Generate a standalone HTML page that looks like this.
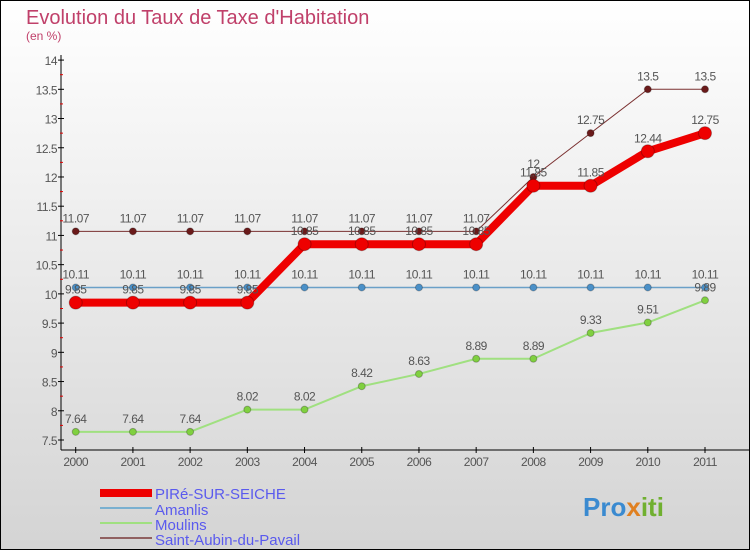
<!DOCTYPE html>
<html><head><meta charset="utf-8"><style>
body{margin:0;}
#wrap{width:750px;height:550px;position:relative;box-sizing:border-box;border:1px solid #000;background:linear-gradient(#ffffff,#d4d4d4);font-family:"Liberation Sans",sans-serif;overflow:hidden}
</style></head><body>
<div id="wrap">
<svg id="chart" width="750" height="550" style="position:absolute;left:-1px;top:-1px">
<text x="26" y="24" font-size="20" fill="#c0406a">Evolution du Taux de Taxe d'Habitation</text>
<text x="26" y="40" font-size="12" fill="#c0406a">(en %)</text>
<g id="axes"></g><g id="series"></g>
<g>
<rect x="100" y="489" width="52" height="8" fill="#ee0000"/>
<text x="155" y="499" font-size="15" fill="#5a5aee">PIRé-SUR-SEICHE</text>
<rect x="100" y="507" width="52" height="2" fill="#7ab0d0"/>
<text x="155" y="515" font-size="15" fill="#5a5aee">Amanlis</text>
<rect x="100" y="522" width="52" height="2" fill="#a0e080"/>
<text x="155" y="530" font-size="15" fill="#5a5aee">Moulins</text>
<rect x="100" y="537" width="52" height="2" fill="#906060"/>
<text x="155" y="545" font-size="15" fill="#5a5aee">Saint-Aubin-du-Pavail</text>
</g>
<text x="583" y="516" font-size="26" font-weight="bold" fill="#3a8ad0">Pro<tspan fill="#e08020">x</tspan><tspan fill="#70b030">iti</tspan></text>
</svg>
</div>
<script>
const years=[2000,2001,2002,2003,2004,2005,2006,2007,2008,2009,2010,2011];
const yTicks=[7.5,8,8.5,9,9.5,10,10.5,11,11.5,12,12.5,13,13.5,14];
const pire=[9.85,9.85,9.85,9.85,10.85,10.85,10.85,10.85,11.85,11.85,12.44,12.75];
const amanlis=[10.11,10.11,10.11,10.11,10.11,10.11,10.11,10.11,10.11,10.11,10.11,10.11];
const moulins=[7.64,7.64,7.64,8.02,8.02,8.42,8.63,8.89,8.89,9.33,9.51,9.89];
const saintAubin=[11.07,11.07,11.07,11.07,11.07,11.07,11.07,11.07,12,12.75,13.5,13.5];
const NS="http://www.w3.org/2000/svg";
const X=i=>75.7+i*(705-75.7)/11;
const Y=v=>440-(v-7.5)*58.45;
function mk(t,a,p){const e=document.createElementNS(NS,t);for(const k in a)e.setAttribute(k,a[k]);p.appendChild(e);return e;}
const ax=document.getElementById('axes');
let l=mk('line',{x1:61,y1:55,x2:61,y2:450,stroke:'#000'},ax);


l=mk('line',{x1:61,y1:450,x2:750,y2:450,stroke:'#000'},ax);


yTicks.forEach((v,i)=>{
 mk('line',{x1:58,x2:64,y1:Y(v),y2:Y(v),stroke:'#000'},ax);
 if(i<yTicks.length-1)mk('line',{x1:60,x2:63,y1:Y(v+0.25),y2:Y(v+0.25),stroke:'#e00000'},ax);
 const t=mk('text',{x:57,y:Y(v)+5,'font-size':12,fill:'#555','text-anchor':'end','letter-spacing':'-0.5'},ax);
 t.textContent=String(v);
 
 
});
years.forEach((y,i)=>{
 mk('line',{x1:X(i),x2:X(i),y1:447,y2:453,stroke:'#000'},ax);
 const t=mk('text',{x:X(i),y:466,'font-size':12,fill:'#555','text-anchor':'middle','letter-spacing':'-0.5'},ax);
 t.textContent=String(y);
 
 
});
const sg=document.getElementById('series');
function draw(vals,color,dot,w,r,name){
 const g=mk('g',{},sg);
 
 
 mk('polyline',{points:vals.map((v,i)=>X(i)+','+Y(v)).join(' '),fill:'none',stroke:color,'stroke-width':w,'stroke-linejoin':'round'},g);
 vals.forEach((v,i)=>{
  const c=mk('circle',{cx:X(i),cy:Y(v),r:r,fill:dot,stroke:'rgba(0,0,0,0.25)'},g);
  
  
  const t=mk('text',{x:X(i),y:Y(v)-9,'font-size':12,fill:'#555','text-anchor':'middle','letter-spacing':'-0.5'},g);
  t.textContent=String(v);
  
  
 });
}
draw(amanlis,'#6aa0c8','#4a90c8',1.5,3.5,'amanlis');
draw(moulins,'#a0e080','#80d040',2,3.5,'moulins');
draw(saintAubin,'#7a3030','#6a1a1a',1,3.5,'saint-aubin');
draw(pire,'#ee0000','#ee0000',8,6.5,'pire');
</script>
</body></html>
